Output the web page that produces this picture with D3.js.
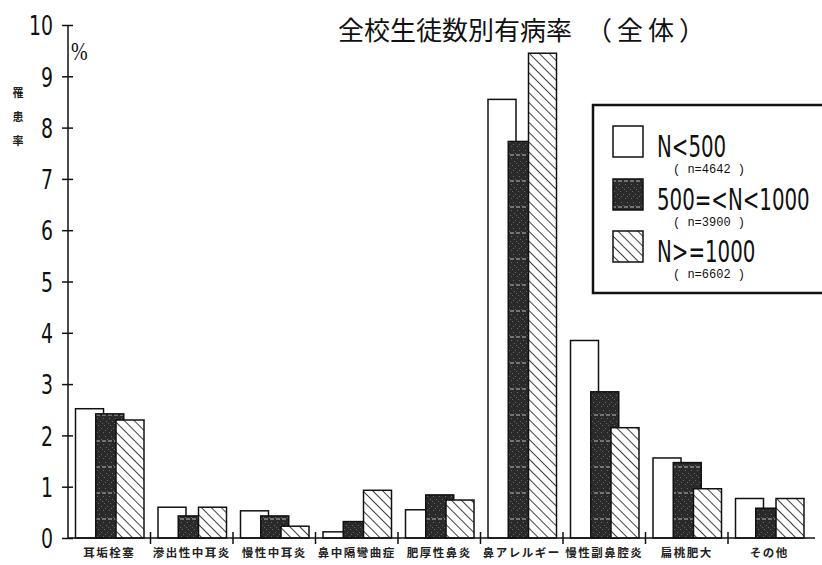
<!DOCTYPE html>
<html>
<head>
<meta charset="utf-8">
<script src="https://cdn.jsdelivr.net/npm/d3@7"></script>
<style>
  body { margin: 0; background: #fff; }
  svg { display: block; }
</style>
</head>
<body>
<svg id="chart" width="822" height="565"></svg>
<script>
// categories along the x axis
const categories = ['耳垢栓塞', '滲出性中耳炎', '慢性中耳炎', '鼻中隔彎曲症', '肥厚性鼻炎',
                    '鼻アレルギー', '慢性副鼻腔炎', '扁桃肥大', 'その他'];
// series (%)
const small  = [2.52, 0.60, 0.53, 0.12, 0.55, 8.55, 3.85, 1.56, 0.77];
const medium = [2.42, 0.43, 0.43, 0.32, 0.84, 7.73, 2.85, 1.47, 0.58];
const large  = [2.30, 0.60, 0.23, 0.93, 0.74, 9.45, 2.15, 0.96, 0.77];
const seriesNames = ['N<500', '500=<N<1000', 'N>=1000'];
const seriesN = ['( n=4642 )', '( n=3900 )', '( n=6602 )'];
const yTicks = [0, 1, 2, 3, 4, 5, 6, 7, 8, 9, 10];

const series = [small, medium, large];
const fills = ['#fff', 'url(#dark)', 'url(#hatch)'];

const svg = d3.select('#chart');
const sans = '"DejaVu Sans", "Liberation Sans", sans-serif';
const cjk = '"Noto Sans CJK JP", "Noto Sans CJK SC", sans-serif';
const mono = '"Liberation Mono", "DejaVu Sans Mono", monospace';

// patterns
const defs = svg.append('defs');
const dark = defs.append('pattern')
    .attr('id', 'dark')
    .attr('patternUnits', 'userSpaceOnUse')
    .attr('width', 6).attr('height', 26);
dark.append('rect').attr('width', 6).attr('height', 26).attr('fill', '#2a2a2a');
[[1, 2], [4, 5], [2, 9], [5, 12], [1, 16], [3, 20], [5, 23], [0, 7], [3, 14]].forEach(p => {
    dark.append('rect').attr('x', p[0]).attr('y', p[1]).attr('width', 1).attr('height', 1).attr('fill', '#666');
});
dark.append('line')
    .attr('x1', 0).attr('x2', 4).attr('y1', 25).attr('y2', 25)
    .attr('stroke', '#bdbdbd').attr('stroke-width', 1);

const hatch = defs.append('pattern')
    .attr('id', 'hatch')
    .attr('patternUnits', 'userSpaceOnUse')
    .attr('width', 7).attr('height', 7)
    .attr('patternTransform', 'rotate(-45)');
hatch.append('rect').attr('width', 7).attr('height', 7).attr('fill', '#fff');
hatch.append('line')
    .attr('x1', 0).attr('x2', 0).attr('y1', 0).attr('y2', 7)
    .attr('stroke', '#111').attr('stroke-width', 1.6);

// scales
const x = d3.scaleBand()
    .domain(categories)
    .range([68, 810.5])
    .padding(0);

const inner = d3.scaleLinear()
    .domain([0, 2])
    .range([7.5, 48]);
const barW = 28;

const y = d3.scaleLinear()
    .domain([0, 10])
    .range([538, 25]);

// bars
series.forEach((vals, si) => {
    svg.append('g')
        .selectAll('rect')
        .data(vals)
        .join('rect')
        .attr('x', (d, i) => x(categories[i]) + inner(si))
        .attr('y', d => y(d))
        .attr('width', barW)
        .attr('height', d => y(0) - y(d))
        .attr('fill', fills[si])
        .attr('stroke', '#111')
        .attr('stroke-width', 1.5);
});

// y axis
const sy = 0.7; // horizontal squeeze for the narrow digits
const yAxis = d3.axisLeft(y)
    .tickValues(yTicks)
    .tickSize(6)
    .tickPadding(8)
    .tickFormat(d3.format('d'));

const yg = svg.append('g')
    .attr('transform', 'translate(68,0)')
    .call(yAxis);
yg.select('.domain').attr('stroke', '#111').attr('stroke-width', 1.5).attr('d', 'M0,' + y(10) + 'V' + y(0));
yg.selectAll('.tick line').attr('x1', -6).attr('x2', 5).attr('stroke', '#111').attr('stroke-width', 1.5);
yg.selectAll('.tick text')
    .attr('font-family', sans)
    .attr('font-size', 27)
    .attr('fill', '#111')
    .attr('x', -15 / sy)
    .attr('transform', 'scale(' + sy + ',1)')
    .attr('dy', '0.36em');

// x axis
const xg = svg.append('g')
    .attr('transform', 'translate(0,' + y(0) + ')');
xg.append('line')
    .attr('x1', 68).attr('x2', 815)
    .attr('stroke', '#111').attr('stroke-width', 1.5);
xg.selectAll('line.sep')
    .data(categories.slice(1))
    .join('line')
    .attr('class', 'sep')
    .attr('x1', d => x(d)).attr('x2', d => x(d))
    .attr('y1', -6).attr('y2', 6)
    .attr('stroke', '#111').attr('stroke-width', 1.5);
xg.selectAll('text')
    .data(categories)
    .join('text')
    .attr('x', d => x(d) + x.bandwidth() / 2)
    .attr('y', 19)
    .attr('text-anchor', 'middle')
    .attr('font-family', cjk)
    .attr('font-weight', 'bold')
    .attr('font-size', 11.5)
    .attr('letter-spacing', 1.5)
    .attr('fill', '#222')
    .text(d => d);

// percent sign and y label
svg.append('text')
    .attr('transform', 'translate(71,60) scale(0.8,1)')
    .attr('font-family', '"Liberation Serif", serif')
    .attr('font-size', 25)
    .attr('fill', '#111')
    .text('%');

svg.append('g')
    .selectAll('text')
    .data(['罹', '患', '率'])
    .join('text')
    .attr('x', 18)
    .attr('y', (d, i) => 97 + i * 24)
    .attr('text-anchor', 'middle')
    .attr('font-family', cjk)
    .attr('font-weight', 'bold')
    .attr('font-size', 11)
    .attr('fill', '#222')
    .text(d => d);

// title
svg.append('text')
    .attr('x', 338).attr('y', 40)
    .attr('font-family', cjk)
    .attr('font-size', 26)
    .attr('fill', '#111')
    .text('全校生徒数別有病率');
svg.append('text')
    .attr('x', 586).attr('y', 40)
    .attr('font-family', cjk)
    .attr('font-size', 26)
    .attr('letter-spacing', 5)
    .attr('fill', '#111')
    .text('（全体）');

// legend
const lg = svg.append('g');
lg.append('rect')
    .attr('x', 593).attr('y', 105)
    .attr('width', 240).attr('height', 188)
    .attr('fill', '#fff')
    .attr('stroke', '#111')
    .attr('stroke-width', 2.5);

const rowY = [126, 179, 231];
const sl = 0.66;
seriesNames.forEach((name, i) => {
    lg.append('rect')
        .attr('x', 613).attr('y', rowY[i])
        .attr('width', 30).attr('height', 31)
        .attr('fill', fills[i])
        .attr('stroke', '#111')
        .attr('stroke-width', 1.5);
    lg.append('text')
        .attr('transform', 'translate(657,' + (rowY[i] + 31) + ') scale(' + sl + ',1)')
        .attr('font-family', sans)
        .attr('font-size', 30)
        .attr('fill', '#111')
        .text(name);
    lg.append('text')
        .attr('x', 673).attr('y', rowY[i] + 47)
        .attr('font-family', mono)
        .attr('font-size', 12)
        .attr('fill', '#111')
        .text(seriesN[i]);
});
</script>
</body>
</html>
